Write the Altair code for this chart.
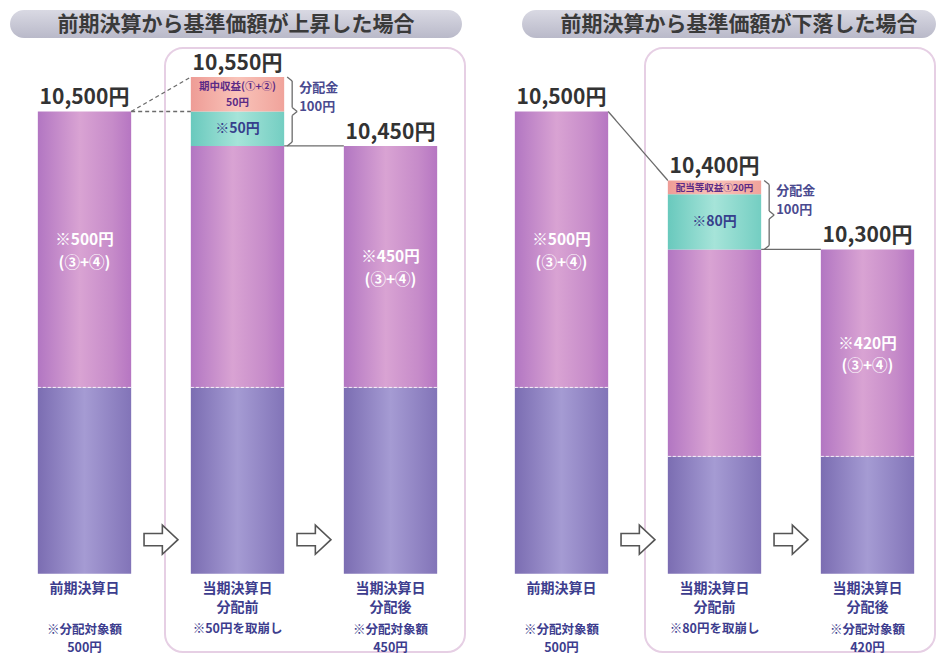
import altair as alt
import pandas as pd

# ---------------- data ----------------
panel_titles = ["前期決算から基準価額が上昇した場合", "前期決算から基準価額が下落した場合"]
bar_keys = ["b1", "b2", "b3"]
captions = ["前期決算日", "当期決算日\n分配前", "当期決算日\n分配後"]
notes_up = ["※分配対象額\n500円", "※50円を取崩し", "※分配対象額\n450円"]
notes_down = ["※分配対象額\n500円", "※80円を取崩し", "※分配対象額\n420円"]

base_value = 9830
nav_up = [10500, 10550, 10450]
nav_down = [10500, 10400, 10300]
principal_up = [10100, 10100, 10100]
principal_down = [10100, 10000, 10000]
reserve_up = [10500, 10450, 10450]
reserve_down = [10500, 10300, 10300]
withdrawn = [50, 80]
income = [50, 20]
reserve_labels_up = ["※500円\n(③+④)", "", "※450円\n(③+④)"]
reserve_labels_down = ["※500円\n(③+④)", "", "※420円\n(③+④)"]
withdrawn_labels = ["※50円", "※80円"]
income_labels = ["期中収益(①+②)\n50円", "配当等収益①20円"]
dist_labels = ["分配金\n100円", "分配金\n100円"]

# connectors: from bar, to bar, y at from, y at to, style
conn_up = [("b1", "b2", 10500, 10550, "dash"), ("b1", "b2", 10500, 10500, "dash"),
           ("b2", "b3", 10450, 10450, "solid")]
conn_down = [("b1", "b2", 10500, 10400, "solid"), ("b2", "b3", 10300, 10300, "solid")]

# ---------------- styles ----------------
JP = "Noto Sans CJK JP"
NAVY = "#3d3d8e"
HALF = 46.67
ARROW = "M-1,-0.36 L0.08,-0.36 L0.08,-0.86 L1,0 L0.08,0.86 L0.08,0.36 L-1,0.36 Z"


def hgrad(stops):
    return {"gradient": "linear", "x1": 0, "x2": 1, "y1": 0, "y2": 0,
            "stops": [{"offset": o, "color": c} for o, c in stops]}


GRADS = {
    "principal": hgrad([(0, "#7b6db2"), (0.5, "#a59bd3"), (1, "#8274b8")]),
    "reserve": hgrad([(0, "#b276c2"), (0.45, "#d9a3d3"), (0.8, "#c68bc9"), (1, "#b676c2")]),
    "withdrawn": hgrad([(0, "#69c9bd"), (0.5, "#a6e4d9"), (1, "#74cec2")]),
    "income": hgrad([(0, "#ee9c96"), (0.5, "#f9c3b9"), (1, "#f0a39b")]),
}

Y_SCALE = alt.Scale(domain=[9715, 10650], nice=False, zero=False)
H = 645


def text_layers(df, field, X, yfield, dy, lh, center=False, **kw):
    rows = []
    for _, r in df.iterrows():
        lines = str(r[field]).split("\n")
        for j, t in enumerate(lines):
            d = r.to_dict()
            d["_t"], d["_j"], d["_n"] = t, j, len(lines)
            rows.append(d)
    e = pd.DataFrame(rows)
    out = []
    for (j, n), g in e.groupby(["_j", "_n"]):
        off = dy + ((j - (n - 1) / 2) if center else j) * lh
        out.append(alt.Chart(g.reset_index(drop=True)).mark_text(dy=off, **kw).encode(
            x=X, y=alt.Y(f"{yfield}:Q", scale=Y_SCALE, axis=None), text="_t:N"))
    return out


def make_panel(i, nav, principal, reserve, reserve_labels, notes, conns, width,
               frame_x, pill_x, title_x):
    xs = alt.Scale(domain=bar_keys, paddingInner=0.39, paddingOuter=0.195, range=[0, 459])
    X = alt.X("bar:N", scale=xs, axis=None, sort=bar_keys)

    rows = []
    for k, b in enumerate(bar_keys):
        rows.append(dict(bar=b, seg="principal", y0=base_value, y1=principal[k], label=""))
        rows.append(dict(bar=b, seg="reserve", y0=principal[k], y1=reserve[k], label=reserve_labels[k]))
        if k == 1:
            w_top = reserve[k] + withdrawn[i]
            rows.append(dict(bar=b, seg="withdrawn", y0=reserve[k], y1=w_top, label=withdrawn_labels[i]))
            rows.append(dict(bar=b, seg="income", y0=w_top, y1=w_top + income[i], label=income_labels[i]))
    seg = pd.DataFrame(rows)
    seg["mid"] = (seg["y0"] + seg["y1"]) / 2

    bars_df = pd.DataFrame({
        "bar": bar_keys, "nav": nav, "principal": principal, "base": [base_value] * 3,
        "navlabel": [f"{v:,}円" for v in nav], "caption": captions, "note": notes,
    })

    dummy = pd.DataFrame({"k": [0]})
    layers = []
    # frame
    layers.append(alt.Chart(dummy).mark_rect(fill="white", stroke="#e6cfe4", strokeWidth=2,
                                             cornerRadius=18).encode(
        x=alt.value(frame_x[0]), x2=alt.value(frame_x[1]), y=alt.value(40), y2=alt.value(644)))
    # pill header
    layers.append(alt.Chart(dummy).mark_rect(
        cornerRadius=14,
        color={"gradient": "linear", "x1": 0, "x2": 0, "y1": 0, "y2": 1,
               "stops": [{"offset": 0, "color": "#d9d9e3"}, {"offset": 1, "color": "#b9b9c9"}]}
    ).encode(x=alt.value(pill_x[0]), x2=alt.value(pill_x[1]), y=alt.value(2), y2=alt.value(30)))
    layers.append(alt.Chart(pd.DataFrame({"t": [panel_titles[i]]})).mark_text(
        font=JP, fontSize=21, fontWeight="bold", color="#3a3a3a", baseline="middle"
    ).encode(x=alt.value(title_x), y=alt.value(17), text="t:N"))

    # stacked bar segments
    for s in ["principal", "reserve", "withdrawn", "income"]:
        layers.append(alt.Chart(seg).transform_filter(alt.datum.seg == s).mark_bar(
            color=GRADS[s]).encode(x=X, y=alt.Y("y0:Q", scale=Y_SCALE, axis=None), y2="y1:Q"))

    # white dashed boundary between principal and reserve
    layers.append(alt.Chart(bars_df).mark_rule(
        color="white", strokeWidth=1, strokeDash=[3, 2], opacity=0.85,
        xOffset=-HALF, x2Offset=HALF).encode(
        x=X, x2=alt.X2("bar"), y=alt.Y("principal:Q", scale=Y_SCALE, axis=None)))

    # connectors
    cdf = pd.DataFrame(conns, columns=["from", "to", "ya", "yb", "style"])
    for style, dash in [("dash", [4, 3]), ("solid", [1, 0])]:
        layers.append(alt.Chart(cdf).transform_filter(alt.datum.style == style).mark_rule(
            color="#6b6b6b", strokeWidth=1.3, strokeDash=dash, xOffset=HALF, x2Offset=-HALF).encode(
            x=alt.X("from:N", scale=xs, axis=None, sort=bar_keys), x2=alt.X2("to"),
            y=alt.Y("ya:Q", scale=Y_SCALE, axis=None), y2="yb:Q"))

    # brace
    b_top = nav[1]
    b_bot = reserve[1]
    bdf = pd.DataFrame({"bar": ["b2"], "top": [b_top], "bot": [b_bot], "mid": [(b_top + b_bot) / 2],
                        "label": [dist_labels[i]]})
    pieces = [("top", 0, "top", 4, 3, 8), ("top", 4, "mid", -4, 8, 8), ("mid", -4, "mid", 0, 8, 13),
              ("mid", 0, "mid", 4, 13, 8), ("mid", 4, "bot", -4, 8, 8), ("bot", -4, "bot", 0, 8, 3)]
    for f1, o1, f2, o2, xa, xb in pieces:
        layers.append(alt.Chart(bdf).mark_rule(
            color="#6b6b6b", strokeWidth=1.3, xOffset=HALF + xa, x2Offset=HALF + xb,
            yOffset=o1, y2Offset=o2).encode(
            x=X, x2=alt.X2("bar"), y=alt.Y(f"{f1}:Q", scale=Y_SCALE, axis=None), y2=f"{f2}:Q"))
    layers += text_layers(bdf, "label", X, "mid", -14, 19, center=True,
                          font=JP, fontSize=13, fontWeight="bold", color="#4a4a8f",
                          align="left", baseline="middle", dx=HALF + 15)

    # value labels on top
    layers.append(alt.Chart(bars_df).mark_text(
        font=JP, fontSize=21, fontWeight="bold", color="#333333", baseline="bottom", dy=-3).encode(
        x=X, y=alt.Y("nav:Q", scale=Y_SCALE, axis=None), text="navlabel:N"))

    # segment labels
    res = seg[(seg["seg"] == "reserve") & (seg["label"] != "")]
    layers += text_layers(res, "label", X, "mid", 2, 22.5, center=True,
                          font=JP, fontSize=15.5, fontWeight="bold", color="white", baseline="middle")
    wd = seg[seg["seg"] == "withdrawn"]
    layers += text_layers(wd, "label", X, "mid", 0, 14, center=True,
                          font=JP, fontSize=14, fontWeight="bold", color="#36408c", baseline="middle")
    inc = seg[seg["seg"] == "income"]
    layers += text_layers(inc, "label", X, "mid", 1, 15.5, center=True,
                          font=JP, fontSize=10.5 if i == 0 else 9.5, fontWeight="bold",
                          color="#5b2a86", baseline="middle")

    # arrows
    adf = pd.DataFrame({"bar": ["b1", "b2"], "base": [base_value] * 2})
    layers.append(alt.Chart(adf).mark_point(
        shape=ARROW, size=1150, filled=True, fill="white", stroke="#555555", strokeWidth=1.6,
        opacity=1, xOffset=76.5, yOffset=-34).encode(
        x=X, y=alt.Y("base:Q", scale=Y_SCALE, axis=None)))

    # captions under bars
    layers += text_layers(bars_df, "caption", X, "base", 15, 19.5,
                          font=JP, fontSize=14, fontWeight="bold", color=NAVY, baseline="middle")
    layers += text_layers(bars_df[bars_df["bar"] == "b2"], "note", X, "base", 55, 18.3,
                          font=JP, fontSize=12.5, fontWeight="bold", color=NAVY, baseline="middle")
    layers += text_layers(bars_df[bars_df["bar"] != "b2"], "note", X, "base", 56, 18.3,
                          font=JP, fontSize=12.5, fontWeight="bold", color=NAVY, baseline="middle")

    return alt.layer(*layers).properties(width=width, height=H)


left = make_panel(0, nav_up, principal_up, reserve_up, reserve_labels_up, notes_up, conn_up,
                  459, (157, 457), (2, 454), 228)
right = make_panel(1, nav_down, principal_down, reserve_down, reserve_labels_down, notes_down,
                   conn_down, 451, (160, 450), (37, 451), 254)

chart = alt.hconcat(left, right, spacing=18).properties(
    padding={"left": 0, "top": 0, "right": 0, "bottom": 0}
).configure_view(stroke=None)

chart.save("out.html", embed_options={"renderer": "svg", "actions": False})
